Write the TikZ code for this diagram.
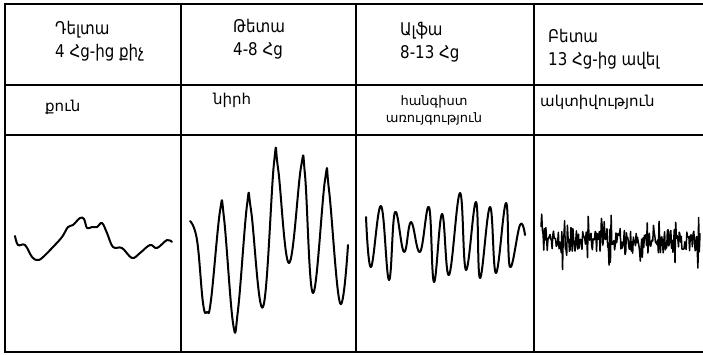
\documentclass[tikz,border=0pt]{standalone}
\usepackage{fontspec}
\setmainfont{DejaVu Sans}
\newfontfamily\narrowfont[FakeStretch=0.86]{DejaVu Sans}
\usetikzlibrary{calc}

\begin{document}
\begin{tikzpicture}[x=1pt, y=-1pt,
  grid/.style={line width=1.8pt},
  wave/.style={line width=2pt, line join=round, line cap=round},
  head/.style={anchor=north west, align=left, font=\narrowfont\fontsize{17.5}{23}\selectfont, inner sep=0pt},
  state/.style={anchor=north west, align=left, font=\fontsize{15}{18}\selectfont, inner sep=0pt}]
\useasboundingbox (0,0) rectangle (703,354);

% table
\draw[grid] (703,4) -- (5,4) -- (5,352) -- (703,352);
\draw[grid] (5,85) -- (703,85);
\draw[grid] (5,135) -- (703,135);
\foreach \x in {181,356,534}
  \draw[grid] (\x,4) -- (\x,352);

% headers
\node[head] (delta) at (55,21) {Դելտա\\4 Հց-ից քիչ};
\node[head] (theta) at (233,19) {Թետա\\4-8 Հց};
\node[head] (alpha) at (400,22) {Ալֆա\\8-13 Հց};
\node[head] (beta) at (548,29) {Բետա\\13 Հց-ից ավել};

% states
\node[state] (sleep) at (45,100) {քուն};
\node[state] (drowse) at (213,93) {նիրհ};
\node[state, anchor=north, align=center, font=\fontsize{13}{17}\selectfont] (rest) at (434,95) {հանգիստ\\առույգություն};
\node[state] (active) at (540,95) {ակտիվություն};

% delta wave
\draw[wave] plot[smooth, tension=0.6] coordinates {(15,236) (18,245) (25,245) (32,257) (37,260) (42,258) (53,247)
  (62,237) (68,227) (73,225) (80,218) (84,219) (87,228) (92,227) (97,227) (102,223) (107,233) (113,247)
  (122,248) (132,258) (140,253) (150,245) (157,248) (167,240) (172,242)};

% theta wave
\draw[wave] plot[smooth, tension=0.7] coordinates {(190,221) (197,240) (203,303) (207,312) (211,300) (220,211) (224,218)
  (233,323) (238,310) (247,205) (251,210) (263,307) (274,163) (278,168) (289,263) (301,167) (305,175)
  (313,293) (325,180) (329,190) (340,303) (348,245)};

% alpha wave
\draw[wave] plot[smooth, tension=0.7] coordinates {(366,217) (371,267) (381,206) (389,280) (395,212) (404,252)
  (411,222) (420,252) (429,207) (434,282) (442,214) (449,275) (460,193) (466,270) (476,202) (480,278)
  (490,207) (496,273) (506,203) (510,267) (520,225) (525,235)};

% beta wave
\pgfmathsetmacro{\dummy}{0}
\pgfmathsetseed{17}
\draw[line width=1.5pt, line join=round] plot[domain=541:700, samples=230, variable=\t]
  (\t, {239 + 0.02*(\t-541) + 12*rand + 22*rand*(rand>0.65)});
\end{tikzpicture}
\end{document}
